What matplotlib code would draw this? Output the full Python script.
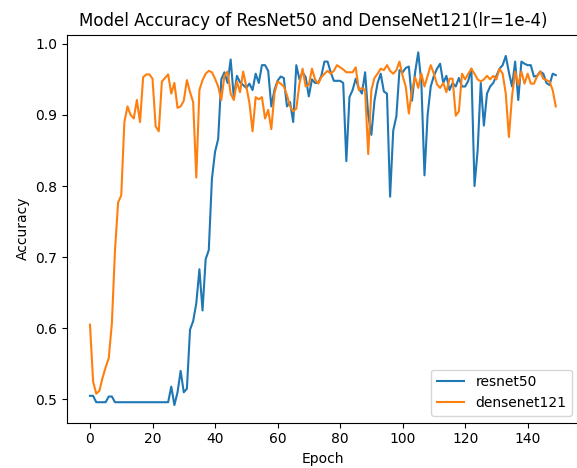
import matplotlib
matplotlib.use("Agg")
import matplotlib.pyplot as plt

# accuracy per epoch
resnet50 = [
    0.505, 0.505, 0.496, 0.496, 0.496, 0.496, 0.504, 0.504, 0.496, 0.496,
    0.496, 0.496, 0.496, 0.496, 0.496, 0.496, 0.496, 0.496, 0.496, 0.496,
    0.496, 0.496, 0.496, 0.496, 0.496, 0.496, 0.518, 0.492,
    0.51, 0.54, 0.51, 0.515, 0.598, 0.61, 0.635, 0.683, 0.625, 0.697,
    0.71, 0.81, 0.848, 0.866, 0.95, 0.96, 0.945, 0.978, 0.925, 0.955,
    0.946, 0.942, 0.938, 0.944, 0.935, 0.958, 0.945, 0.97, 0.97, 0.962,
    0.912, 0.935, 0.948, 0.954,
    0.952, 0.912, 0.918, 0.89, 0.97, 0.95, 0.96, 0.953, 0.926, 0.95,
    0.945, 0.945, 0.955, 0.975, 0.975, 0.96, 0.948, 0.948, 0.948, 0.945,
    0.835, 0.925,
    0.935, 0.951, 0.937, 0.93, 0.96, 0.90, 0.872, 0.92, 0.945, 0.958,
    0.933, 0.93, 0.785, 0.878, 0.898, 0.963, 0.96, 0.966, 0.968, 0.92,
    0.96, 0.988, 0.945, 0.815, 0.9, 0.94, 0.955, 0.965, 0.972, 0.945,
    0.955, 0.935, 0.945,
    0.94, 0.952, 0.94, 0.94, 0.948, 0.965, 0.8, 0.85, 0.945, 0.885,
    0.93, 0.94, 0.945, 0.955, 0.965, 0.97, 0.983, 0.96, 0.94, 0.975,
    0.921, 0.975, 0.972, 0.97, 0.97, 0.954, 0.955, 0.961, 0.958, 0.945,
    0.942, 0.958, 0.956,
]

densenet121 = [
    0.605, 0.525, 0.508, 0.512, 0.53, 0.545, 0.558, 0.607, 0.71, 0.777,
    0.787, 0.89, 0.912, 0.90, 0.895, 0.921, 0.89, 0.953, 0.957, 0.957,
    0.951, 0.884, 0.877, 0.947, 0.952, 0.957, 0.93, 0.945,
    0.91, 0.912, 0.92, 0.949, 0.932, 0.918, 0.812, 0.935, 0.949, 0.958,
    0.962, 0.96, 0.951, 0.94, 0.921, 0.955, 0.961, 0.93, 0.921, 0.947,
    0.932, 0.961, 0.94, 0.917, 0.877, 0.925, 0.922, 0.925, 0.895, 0.907,
    0.88, 0.93, 0.947, 0.944,
    0.94, 0.928, 0.912, 0.905, 0.909, 0.944, 0.965, 0.94, 0.942, 0.965,
    0.95, 0.944, 0.953, 0.958, 0.962, 0.958, 0.962, 0.97, 0.967, 0.964,
    0.96, 0.96,
    0.96, 0.967, 0.935, 0.938, 0.935, 0.845, 0.935, 0.952, 0.958, 0.965,
    0.963, 0.97, 0.962, 0.958, 0.963, 0.975, 0.955, 0.94, 0.902, 0.935,
    0.953, 0.938, 0.958, 0.94, 0.955, 0.97, 0.958, 0.943, 0.938, 0.945,
    0.932, 0.951, 0.951,
    0.899, 0.905, 0.958, 0.95, 0.958, 0.965, 0.958, 0.95, 0.947, 0.95,
    0.955, 0.95, 0.955, 0.95, 0.965, 0.958, 0.93, 0.869, 0.926, 0.961,
    0.942, 0.961, 0.944, 0.958, 0.944, 0.944, 0.954, 0.961, 0.951, 0.949,
    0.947, 0.935, 0.912,
]

epochs = list(range(len(resnet50)))

fig = plt.figure(figsize=(5.77, 4.68), dpi=100)
ax = fig.add_axes([0.1156, 0.0968, 0.888, 0.829])
ax.plot(epochs, resnet50, label="resnet50")
ax.plot(epochs, densenet121, label="densenet121")
ax.set_title("Model Accuracy of ResNet50 and DenseNet121(lr=1e-4)", x=0.482)
ax.set_xlabel("Epoch")
ax.set_ylabel("Accuracy")
ax.legend(loc="lower right")

fig.savefig("out.png", dpi=100)
